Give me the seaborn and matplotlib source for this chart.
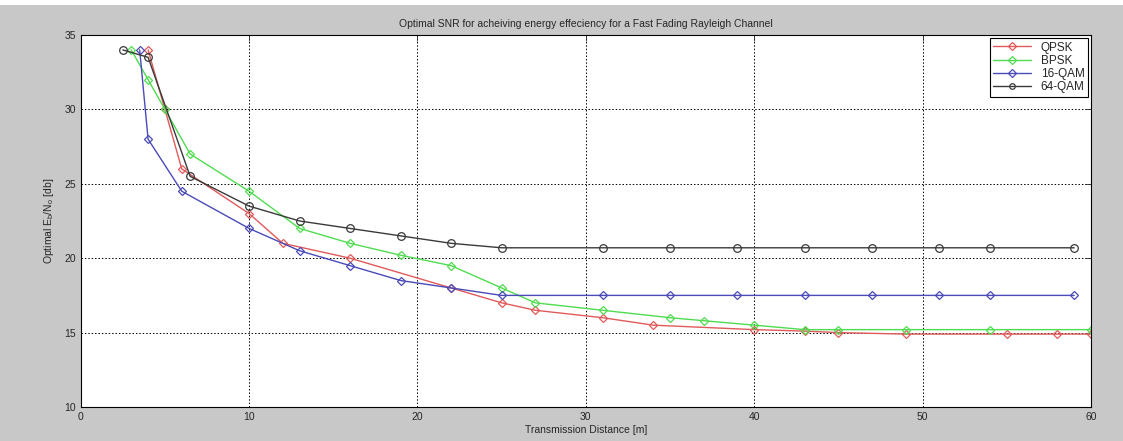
import matplotlib
matplotlib.use("Agg")
import matplotlib.pyplot as plt
import seaborn as sns
import pandas as pd

# data
qpsk_x = [4, 5, 6, 10, 12, 16, 22, 25, 27, 31, 34, 40, 43, 45, 49, 55, 58, 60]
qpsk_y = [34, 30, 26, 23, 21, 20, 18, 17, 16.5, 16, 15.5, 15.2, 15.1, 15.0, 14.9, 14.9, 14.9, 14.9]

bpsk_x = [3, 4, 5, 6.5, 10, 13, 16, 19, 22, 25, 27, 31, 35, 37, 40, 43, 45, 49, 54, 60]
bpsk_y = [34, 32, 30, 27, 24.5, 22, 21, 20.2, 19.5, 18, 17, 16.5, 16, 15.8, 15.5, 15.2, 15.2, 15.2, 15.2, 15.2]

qam16_x = [3.5, 4, 6, 10, 13, 16, 19, 22, 25, 31, 35, 39, 43, 47, 51, 54, 59]
qam16_y = [34, 28, 24.5, 22, 20.5, 19.5, 18.5, 18, 17.5, 17.5, 17.5, 17.5, 17.5, 17.5, 17.5, 17.5, 17.5]

qam64_x = [2.5, 4, 6.5, 10, 13, 16, 19, 22, 25, 31, 35, 39, 43, 47, 51, 54, 59]
qam64_y = [34, 33.5, 25.5, 23.5, 22.5, 22, 21.5, 21, 20.7, 20.7, 20.7, 20.7, 20.7, 20.7, 20.7, 20.7, 20.7]

labels = ["QPSK", "BPSK", "16-QAM", "64-QAM"]
colors = ["#e05a5a", "#4fdc4f", "#4a4ab8", "#3a3a3a"]
markers = ["D", "D", "D", "o"]
msizes = [4.2, 4.2, 4.2, 5.5]

frames = []
for name, xs, ys in zip(labels, [qpsk_x, bpsk_x, qam16_x, qam64_x],
                        [qpsk_y, bpsk_y, qam16_y, qam64_y]):
    frames.append(pd.DataFrame({"dist": xs, "snr": ys, "scheme": name}))
df = pd.concat(frames, ignore_index=True)

sns.set_style("white")
plt.rcParams["font.family"] = ["Liberation Sans", "DejaVu Sans"]
plt.rcParams["mathtext.default"] = "regular"

fig = plt.figure(figsize=(11.23, 4.41), dpi=100)
fig.patch.set_facecolor("#c8c8c8")
fig.patches.append(plt.Rectangle((0, 0.988), 1, 0.012, transform=fig.transFigure,
                                 facecolor="white", edgecolor="none"))
ax = fig.add_axes([0.0719, 0.0771, 0.8996, 0.8435])
ax.set_facecolor("white")

for name, c, m, ms in zip(labels, colors, markers, msizes):
    sub = df[df["scheme"] == name]
    sns.lineplot(data=sub, x="dist", y="snr", ax=ax, color=c, marker=m,
                 markersize=ms, markerfacecolor="none", markeredgecolor=c,
                 markeredgewidth=0.9, linewidth=1.0, errorbar=None, label=name)

ax.set_xlim(0, 60)
ax.set_ylim(10, 35)
ax.set_xticks(range(0, 61, 10))
ax.set_yticks(range(10, 36, 5))
ax.grid(True, color="black", linestyle=(0, (1.5, 2.0)), linewidth=0.7)
ax.tick_params(direction="in", top=True, right=True, length=4, labelsize=7.5, width=0.6)
for s in ax.spines.values():
    s.set_color("black")
    s.set_linewidth(0.8)

ax.set_title("Optimal SNR for acheiving energy effeciency for a Fast Fading Rayleigh Channel",
             fontsize=7.5, pad=6)
ax.set_xlabel("Transmission Distance [m]", fontsize=7.5, labelpad=2)
ax.set_ylabel("Optimal E$_b$/N$_o$ [db]", fontsize=7.5, labelpad=6)

leg = ax.legend(loc="upper right", fontsize=8.5, frameon=True, fancybox=False,
                handlelength=3.2, borderpad=0.3, labelspacing=0.1,
                borderaxespad=0.25, framealpha=1)
leg.get_frame().set_edgecolor("black")
leg.get_frame().set_linewidth(0.8)
for h in leg.legend_handles:
    h.set_markersize(4)

fig.savefig("out.png", dpi=100, facecolor=fig.get_facecolor())
